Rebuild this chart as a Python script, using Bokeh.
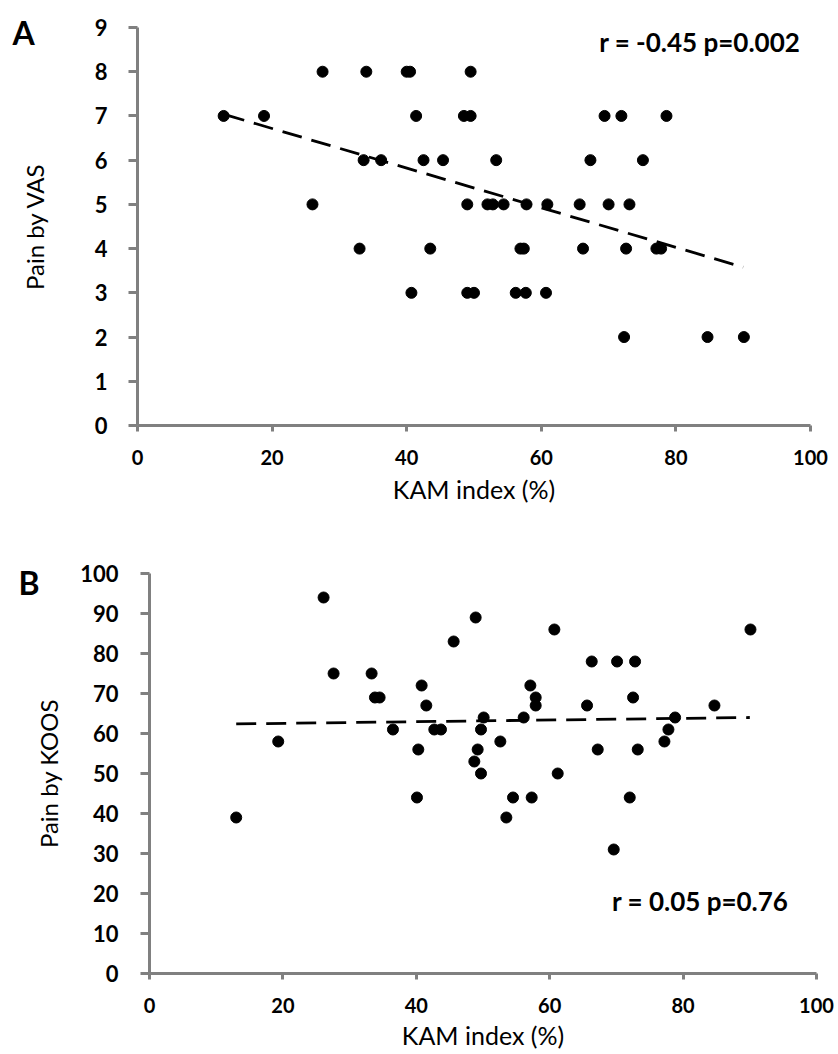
from bokeh.plotting import figure
from bokeh.models import Label, FixedTicker, Range1d
from bokeh.embed import file_html
from bokeh.resources import INLINE

# ---- Panel A data: KAM index (%) vs Pain by VAS ----
vas_kam = [27.5, 34.0, 40.0, 40.5, 49.5,
           12.8, 18.8, 41.4, 48.5, 49.5, 69.4, 71.9, 78.6,
           33.6, 36.2, 42.5, 45.4, 53.3, 67.3, 75.1,
           26.0, 49.0, 52.0, 52.8, 54.4, 57.8, 60.9, 65.7, 70.0, 73.1,
           33.0, 43.5, 56.9, 57.4, 66.2, 72.6, 77.1, 77.8,
           40.7, 49.0, 50.0, 56.2, 57.7, 60.7,
           72.3, 84.7, 90.1]
vas_pain = [8, 8, 8, 8, 8,
            7, 7, 7, 7, 7, 7, 7, 7,
            6, 6, 6, 6, 6, 6, 6,
            5, 5, 5, 5, 5, 5, 5, 5, 5, 5,
            4, 4, 4, 4, 4, 4, 4, 4,
            3, 3, 3, 3, 3, 3,
            2, 2, 2]
vas_trend_x = [13, 90]
vas_trend_y = [7.03, 3.58]

# ---- Panel B data: KAM index (%) vs Pain by KOOS ----
koos_kam = [13.0, 19.3, 26.1, 27.6, 33.3, 33.8, 34.5, 36.5, 40.8, 41.5,
            42.7, 43.7, 40.3, 40.1, 45.6, 48.9,
            50.1, 49.7, 49.2, 48.7, 49.7, 52.6, 54.5, 53.5, 57.3, 56.1,
            57.1, 57.9, 57.9, 60.7, 61.2, 65.6, 66.3, 67.2, 69.6, 70.1,
            72.0, 72.8, 72.5, 73.2, 77.2, 77.8, 78.8, 84.7, 90.1]
koos_pain = [39, 58, 94, 75, 75, 69, 69, 61, 72, 67,
             61, 61, 56, 44, 83, 89,
             64, 61, 56, 53, 50, 58, 44, 39, 44, 64,
             72, 69, 67, 86, 50, 67, 78, 56, 31, 78,
             44, 78, 69, 56, 58, 61, 64, 67, 86]
koos_trend_x = [13, 90]
koos_trend_y = [62.4, 64.0]

x_ticks = [0, 20, 40, 60, 80, 100]
vas_ticks = list(range(0, 10))
koos_ticks = list(range(0, 101, 10))

FONT = "Lato"
GREY = "#808080"


def style(p, xt, yt, x_std, x_title_std, y_std, y_title_std):
    p.outline_line_color = None
    p.xgrid.grid_line_color = None
    p.ygrid.grid_line_color = None
    p.background_fill_color = "white"
    p.border_fill_color = "white"
    for ax in (p.xaxis[0], p.yaxis[0]):
        ax.axis_line_color = GREY
        ax.axis_line_width = 3
        ax.major_tick_line_color = GREY
        ax.major_tick_line_width = 3
        ax.major_tick_in = 0
        ax.minor_tick_line_color = None
        ax.major_label_text_font = FONT
        ax.major_label_text_font_style = "bold"
        ax.major_label_text_color = "black"
        ax.axis_label_text_font = FONT
        ax.axis_label_text_font_style = "normal"
        ax.axis_label_text_color = "black"
    p.xaxis[0].axis_label_text_font_size = "25px"
    p.yaxis[0].axis_label_text_font_size = "24px"
    p.xaxis[0].ticker = FixedTicker(ticks=xt)
    p.yaxis[0].ticker = FixedTicker(ticks=yt)
    p.xaxis[0].major_tick_out = 6
    p.yaxis[0].major_tick_out = 9
    p.xaxis[0].major_label_text_font_size = "20px"
    p.yaxis[0].major_label_text_font_size = "22px"
    p.xaxis[0].major_label_standoff = x_std
    p.yaxis[0].major_label_standoff = y_std
    p.xaxis[0].axis_label_standoff = x_title_std
    p.yaxis[0].axis_label_standoff = y_title_std


def panel_title(p, text, offset, standoff):
    p.title.text = text
    p.title.align = "left"
    p.title.offset = offset
    p.title.standoff = standoff
    p.title.text_font = FONT
    p.title.text_font_style = "bold"
    p.title.text_font_size = "32px"
    p.title.text_color = "black"


# Panel A
pA = figure(width=838, height=540, x_range=Range1d(0, 100), y_range=Range1d(0, 9),
            output_backend="svg", toolbar_location=None,
            min_border_left=137, min_border_right=28, min_border_top=27, min_border_bottom=115)
style(pA, x_ticks, vas_ticks, 18, 6, 21, 43)
panel_title(pA, "A", -125, -48)
pA.xaxis[0].axis_label = "KAM index (%)"
pA.yaxis[0].axis_label = "Pain by VAS"
pA.line(vas_trend_x, vas_trend_y, line_color="black", line_width=2.8, line_dash="20 10")
pA.scatter(vas_kam, vas_pain, size=11, fill_color="black", line_color="black")
pA.add_layout(Label(x=98.5, y=8.67, text="r = -0.45 p=0.002", text_font=FONT,
                    text_font_style="bold", text_font_size="26px", text_color="black",
                    text_baseline="middle", text_align="right"))

# Panel B
pB = figure(width=838, height=514, x_range=Range1d(0, 100), y_range=Range1d(0, 100),
            output_backend="svg", toolbar_location=None,
            min_border_left=149, min_border_right=22, min_border_top=33, min_border_bottom=81)
style(pB, x_ticks, koos_ticks, 18, 4, 22, 14)
panel_title(pB, "B", -131, -56)
pB.xaxis[0].axis_label = "KAM index (%)"
pB.yaxis[0].axis_label = "Pain by KOOS"
pB.line(koos_trend_x, koos_trend_y, line_color="black", line_width=2.8, line_dash="20 10")
pB.scatter(koos_kam, koos_pain, size=11, fill_color="black", line_color="black")
pB.add_layout(Label(x=95.8, y=18.2, text="r = 0.05 p=0.76", text_font=FONT,
                    text_font_style="bold", text_font_size="26px", text_color="black",
                    text_baseline="middle", text_align="right"))

open("out.html", "w").write(file_html([pA, pB], INLINE))
